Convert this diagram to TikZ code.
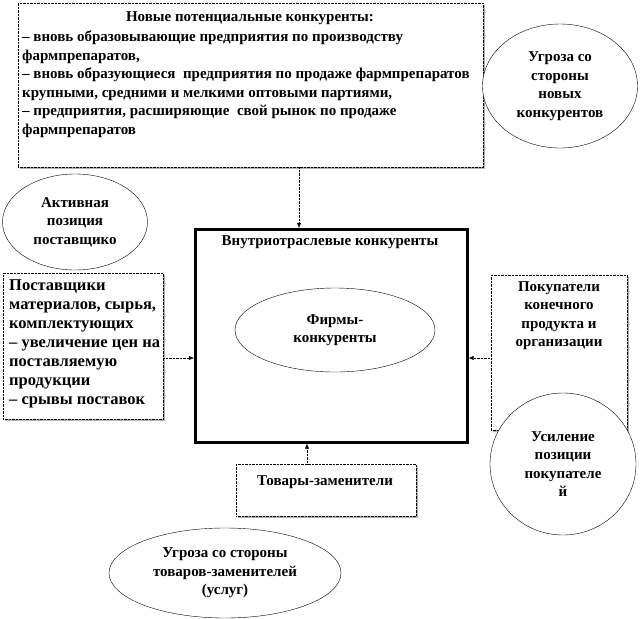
\documentclass[tikz,border=0pt]{standalone}
\usepackage{fontspec}
\setmainfont{Liberation Serif}
\usetikzlibrary{shapes.geometric,arrows.meta,shadows}

\tikzset{
  txt/.style={font=\bfseries\fontsize{15}{18.5}\selectfont},
  bigtxt/.style={font=\bfseries\fontsize{16.5}{19}\selectfont},
  dotbox/.style={draw, densely dotted, fill=white, inner sep=4pt,
    drop shadow={shadow xshift=1.5pt,shadow yshift=-1.5pt,fill=gray!60,opacity=1}},
  oval/.style={ellipse, draw, thin, fill=white, inner sep=0pt, align=center, txt},
  conn/.style={densely dotted, -{Latex[length=5pt,width=4pt]}},
}

\begin{document}
\begin{tikzpicture}[x=1pt,y=-1pt]
    \useasboundingbox (0,0) rectangle (642,618);
    % new competitors
    \node[dotbox, minimum width=465, minimum height=164, anchor=north west] (newc) at (18,3) {};
    \node[txt, anchor=north] (newct) at (250,8) {Новые потенциальные конкуренты:};
    \node[txt, anchor=north west, align=left, inner sep=0pt] (newcl) at (22,31)
      {– вновь образовывающие предприятия по производству\\
       фармпрепаратов,\\
       – вновь образующиеся\ \ предприятия по продаже фармпрепаратов\\
       крупными, средними и мелкими оптовыми партиями,\\
       – предприятия, расширяющие\ \ свой рынок по продаже\\
       фармпрепаратов};
    \node[oval, minimum width=155, minimum height=124] (thrnew) at (560,86)
      {Угроза со\\стороны\\новых\\конкурентов};
    % suppliers
    \node[oval, minimum width=145, minimum height=96] (activ) at (75,222)
      {Активная\\позиция\\поставщико};
    \node[dotbox, minimum width=160, minimum height=146, anchor=north west] (supp) at (3,273) {};
    \node[bigtxt, anchor=north west, align=left, inner sep=0pt] (suppt) at (9,279)
      {Поставщики\\материалов, сырья,\\комплектующих\\– увеличение цен на\\поставляемую\\продукции\\– срывы поставок};
    % industry competitors
    \node[draw, line width=2.5pt, fill=white, minimum width=272, minimum height=213, anchor=north west,
      drop shadow={shadow xshift=1.5pt,shadow yshift=-1.5pt,fill=gray!60,opacity=1}] (main) at (194,228) {};
    \node[txt, anchor=north] (maint) at (330,232) {Внутриотраслевые конкуренты};
    \node[oval, minimum width=200, minimum height=84] (firms) at (335,330) {Фирмы-\\конкуренты};
    % buyers
    \node[dotbox, minimum width=136, minimum height=155, anchor=north west] (buy) at (491,275) {};
    \node[txt, anchor=north, align=center, inner sep=0pt] (buyt) at (559,281)
      {Покупатели\\конечного\\продукта и\\организации};
    \node[oval, minimum width=146, minimum height=142] (thrbuy) at (563,464)
      {Усиление\\позиции\\покупателе\\й};
    % substitutes
    \node[dotbox, minimum width=180, minimum height=52, anchor=north west] (subst) at (236,464) {};
    \node[txt, anchor=north] (substt) at (325,472) {Товары-заменители};
    \node[oval, minimum width=232, minimum height=90] (thrsub) at (225,573)
      {Угроза со стороны\\товаров-заменителей\\(услуг)};
    % connectors
    \coordinate (a1) at (299,167);
    \draw[conn] (a1) -- (a1 |- main.north);
    \coordinate (a2) at (163,358);
    \draw[conn] (a2) -- (a2 -| main.west);
    \coordinate (a3) at (491,358);
    \draw[conn] (a3) -- (a3 -| main.east);
    \coordinate (a4) at (307,464);
    \draw[conn] (a4) -- (a4 |- main.south);
\end{tikzpicture}
\end{document}
